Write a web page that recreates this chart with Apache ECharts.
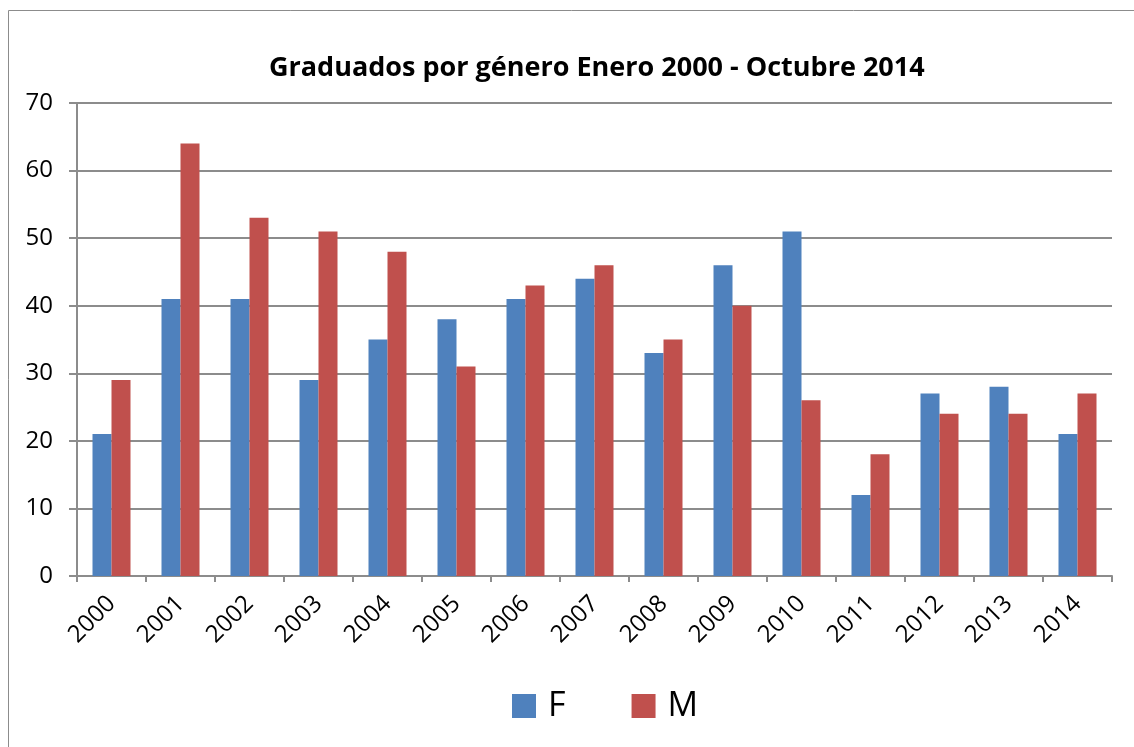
<!DOCTYPE html>
<html lang="es">
<head>
    <meta charset="UTF-8">
    <title>Graduados por género</title>
    <script src="https://cdn.jsdelivr.net/npm/echarts@6/dist/echarts.min.js"></script>
    <style>
        html, body { margin: 0; padding: 0; background: #fff; }
        #main { width: 1134px; height: 747px; }
    </style>
</head>
<body>
<div id="main"></div>
<script>
    var years = ['2000', '2001', '2002', '2003', '2004', '2005', '2006', '2007',
                 '2008', '2009', '2010', '2011', '2012', '2013', '2014'];
    var femenino = [21, 41, 41, 29, 35, 38, 41, 44, 33, 46, 51, 12, 27, 28, 21];
    var masculino = [29, 64, 53, 51, 48, 31, 43, 46, 35, 40, 26, 18, 24, 24, 27];
    var fontName = 'Open Sans';

    var myChart = echarts.init(document.getElementById('main'));

    var option = {
        animation: false,
        textStyle: { fontFamily: fontName },
        graphic: [{
            type: 'rect',
            shape: { x: 8.5, y: 10.5, width: 1200, height: 800 },
            style: { fill: 'none', stroke: '#8c8c8c', lineWidth: 1 }
        }],
        // titulo centrado sobre el area del grafico, no sobre el lienzo
        title: {
            text: 'Graduados por género Enero 2000 - Octubre 2014',
            left: 264,
            top: 50,
            textStyle: { fontSize: 27, fontWeight: 'bold', color: '#000', fontFamily: fontName }
        },
        legend: {
            data: ['F', 'M'],
            left: 507,
            top: 684,
            itemWidth: 24,
            itemHeight: 24,
            itemGap: 66,
            icon: 'rect',
            textStyle: { fontSize: 34, color: '#000', fontFamily: fontName, padding: [0, 0, 0, 7] }
        },
        grid: {
            left: 77,
            right: 22,
            top: 103,
            bottom: 171
        },
        xAxis: {
            type: 'category',
            data: years,
            axisLine: { lineStyle: { color: '#8c8c8c', width: 2 } },
            axisTick: { show: true, length: 6, lineStyle: { color: '#8c8c8c', width: 2 } },
            axisLabel: {
                rotate: 45,
                fontSize: 24,
                color: '#000',
                margin: 24,
                interval: 0
            }
        },
        yAxis: {
            type: 'value',
            min: 0,
            max: 70,
            interval: 10,
            axisLine: { show: true, lineStyle: { color: '#8c8c8c', width: 2 } },
            axisTick: { show: true, length: 8, lineStyle: { color: '#8c8c8c', width: 2 } },
            splitLine: { lineStyle: { color: '#8c8c8c', width: 2 } },
            axisLabel: { fontSize: 24, color: '#000', margin: 24 }
        },
        series: [
            {
                name: 'F',
                type: 'bar',
                data: femenino,
                barWidth: 19,
                barGap: '0%',
                itemStyle: { color: '#4F81BD' }
            },
            {
                name: 'M',
                type: 'bar',
                data: masculino,
                barWidth: 19,
                barGap: '0%',
                itemStyle: { color: '#C0504D' }
            }
        ]
    };

    myChart.setOption(option);
</script>
</body>
</html>
